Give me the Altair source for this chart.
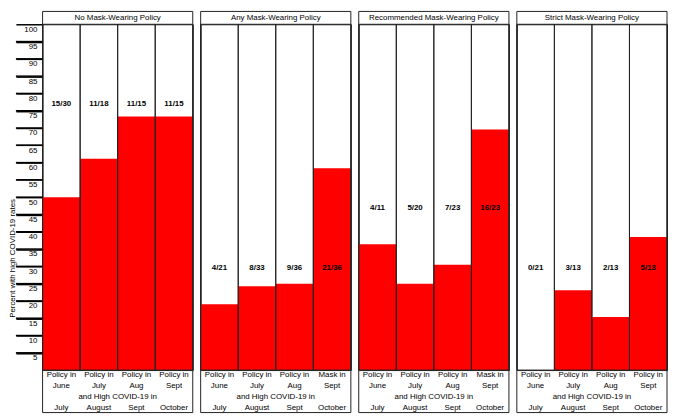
import altair as alt
import pandas as pd

FONT = "Liberation Sans"

panel_titles = [
    "No Mask-Wearing Policy",
    "Any Mask-Wearing Policy",
    "Recommended Mask-Wearing Policy",
    "Strict Mask-Wearing Policy",
]
top_lines = [
    ["Policy in", "Policy in", "Policy in", "Policy in"],
    ["Policy in", "Policy in", "Policy in", "Mask in"],
    ["Policy in", "Policy in", "Policy in", "Mask in"],
    ["Policy in", "Policy in", "Policy in", "Policy in"],
]
policy_months = ["June", "July", "Aug", "Sept"]
covid_months = ["July", "August", "Sept", "October"]
mid_caption = "and High COVID-19 in"
numerators = [[15, 11, 11, 11], [4, 8, 9, 21], [4, 5, 7, 16], [0, 3, 2, 5]]
denominators = [[30, 18, 15, 15], [21, 33, 36, 36], [11, 20, 23, 23], [21, 13, 13, 13]]
label_levels = [77, 29.5, 47, 29.5]
y_ticks = list(range(5, 101, 5))
tick_lines = list(range(5, 100, 5))
y_title = "Percent with high COVID-19 rates"

W = 152
H = 350
LINE = "#222222"


def make_panel(i):
    rows = []
    for j in range(4):
        key = f"{top_lines[i][j]}|{policy_months[j]}"
        n, d = numerators[i][j], denominators[i][j]
        rows.append(dict(key=key, pct=100.0 * n / d, label=f"{n}/{d}",
                         level=label_levels[i], month=covid_months[j]))
    df = pd.DataFrame(rows)
    order = list(df["key"])

    x_axis = alt.Axis(
        title=None, labelExpr="split(datum.label, '|')", labelAngle=0,
        ticks=False, domain=False, labelFontSize=8, labelFont=FONT,
        labelLineHeight=10.8, labelPadding=1, labelBaseline="top",
        labelColor="black", labelLimit=200,
    )
    x = alt.X("key:N", sort=order, axis=x_axis,
              scale=alt.Scale(paddingInner=0, paddingOuter=0))
    xs = alt.X("key:N", sort=order)
    yscale = alt.Scale(domain=[0, 100], nice=False, zero=True)
    if i == 0:
        y_axis = alt.Axis(
            values=y_ticks, tickCount=100, title=y_title, titleFontSize=8, titleFont=FONT,
            titleFontWeight="normal", titleColor="black", titleAngle=270,
            titleX=-26, titleY=236.5, titleAlign="center", titleBaseline="bottom",
            ticks=True, tickSize=27, tickColor="black", tickWidth=1.5, domain=False,
            labelFontSize=8, labelFont=FONT, labelColor="black",
            labelBaseline="top", labelPadding=-21.3, labelOffset=1,
            labelFlush=False, labelOverlap=False, grid=False,
        )
    else:
        y_axis = None
    y = alt.Y("pct:Q", axis=y_axis, scale=yscale)

    base = alt.Chart(df)
    bars = base.mark_bar(color="#FF0000").encode(x=x, y=y)
    cells = base.mark_rect(filled=False, stroke=LINE, strokeWidth=1).encode(
        x=xs, y=alt.value(0), y2=alt.value(H)
    )
    texts = base.mark_text(fontWeight="bold", fontSize=8, font=FONT,
                           color="black", baseline="middle").encode(
        x=xs, y=alt.Y("level:Q"), text="label:N"
    )
    months = base.mark_text(fontSize=8, font=FONT, color="black",
                            baseline="middle").encode(
        x=xs, y=alt.value(H + 38), text="month:N"
    )
    one = pd.DataFrame({"t": [panel_titles[i]], "c": [mid_caption]})
    header = alt.Chart(one).mark_text(fontSize=8, font=FONT, color="black",
                                      baseline="middle").encode(
        text="t:N", x=alt.value(W / 2), y=alt.value(-6.5)
    )
    caption = alt.Chart(one).mark_text(fontSize=8, font=FONT, color="black",
                                       baseline="middle").encode(
        text="c:N", x=alt.value(W / 2), y=alt.value(H + 26.8)
    )
    box = alt.Chart(one).mark_rect(filled=False, stroke=LINE, strokeWidth=1).encode(
        x=alt.value(0), x2=alt.value(W), y=alt.value(-13), y2=alt.value(H + 43)
    )
    layers = [bars, cells, texts, months, header, caption, box]
    if i == 0:
        tick_rules = alt.Chart(pd.DataFrame({"pct": tick_lines})).mark_rule(
            color="black", strokeWidth=1.5
        ).encode(y=alt.Y("pct:Q", scale=yscale), x=alt.value(-27), x2=alt.value(0))
        layers.append(tick_rules)
    return alt.layer(*layers).properties(width=W, height=H)


chart = alt.hconcat(*[make_panel(i) for i in range(4)], spacing=6).properties(
    padding=0, background="white"
).configure_view(stroke=LINE, strokeWidth=1)

chart.save("out.html", embed_options={"renderer": "svg", "actions": False})
